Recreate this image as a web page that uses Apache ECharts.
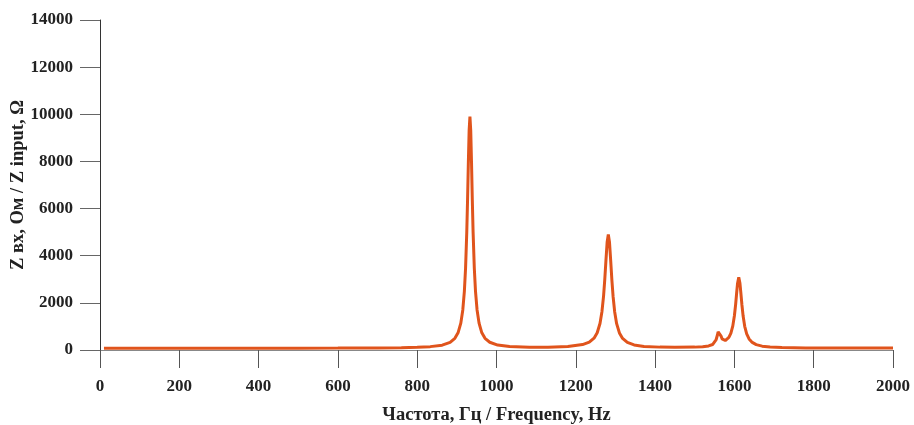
<!DOCTYPE html>
<html>
<head>
<meta charset="utf-8">
<script src="https://cdn.jsdelivr.net/npm/echarts@6/dist/echarts.min.js"></script>
<style>
  html, body { margin: 0; padding: 0; background: #fff; }
  #chart { width: 914px; height: 425px; }
</style>
</head>
<body>
<div id="chart"></div>
<script>
// частота, Гц
var freq = [
    10, 100, 200, 300, 400, 500, 600, 700, 760, 800,
    833, 863, 883, 895, 903, 910, 915, 919, 922, 925,
    927, 929, 931, 933, 935, 937, 939, 941, 944, 947,
    951, 956, 963, 971, 983, 1003, 1033, 1083, 1130, 1180,
    1217, 1234, 1246, 1254, 1261, 1266, 1270, 1273, 1276, 1279,
    1282, 1285, 1288, 1291, 1294, 1298, 1303, 1310, 1318, 1330,
    1347, 1372, 1412, 1450, 1500, 1520, 1535, 1545, 1550, 1554,
    1557, 1559, 1561, 1563, 1566, 1569, 1573, 1577, 1581, 1586,
    1591, 1596, 1600, 1603, 1606, 1608, 1611, 1614, 1616, 1619,
    1622, 1626, 1631, 1637, 1645, 1655, 1670, 1690, 1720, 1780,
    1850, 1920, 2000
];
// Z вх, Ом
var zInput = [
    72, 73, 74, 75, 76, 78, 82, 90, 100, 115,
    143, 205, 325, 495, 730, 1140, 1700, 2500, 3480, 4990,
    6365, 7940, 9320, 9900, 9320, 7940, 6365, 4990, 3480, 2500,
    1700, 1140, 730, 495, 330, 210, 150, 118, 121, 145,
    229, 332, 502, 734, 1126, 1635, 2289, 2976, 3795, 4567,
    4900, 4567, 3795, 2968, 2281, 1627, 1118, 724, 492, 320,
    214, 151, 122, 114, 122, 139, 172, 233, 311, 445,
    626, 765, 836, 782, 602, 474, 406, 401, 436, 532,
    707, 1023, 1453, 1915, 2482, 2833, 3079, 2831, 2479, 1909,
    1439, 1005, 682, 468, 321, 229, 164, 128, 105, 90,
    84, 81, 80
];

var xTitle = 'Частота, Гц / Frequency, Hz';
var yTitle = 'Z вх, Ом / Z input, Ω';

var points = [];
for (var i = 0; i < freq.length; i++) {
    points.push([freq[i], zInput[i]]);
}

var tickFont = {
    fontFamily: 'Liberation Serif',
    fontWeight: 'bold',
    fontSize: 17,
    color: '#222'
};
var nameFont = {
    fontFamily: 'Liberation Serif',
    fontWeight: 'bold',
    fontSize: 18.5,
    color: '#222'
};

function plain(v) {
    return String(v);
}

var myChart = echarts.init(document.getElementById('chart'));

var option = {
    animation: false,
    grid: { left: 100, right: 21, top: 20, bottom: 75, outerBoundsMode: 'none', containLabel: false },
    xAxis: {
        type: 'value',
        min: 0,
        max: 2000,
        interval: 200,
        name: xTitle,
        nameLocation: 'middle',
        nameGap: 56,
        nameMoveOverlap: false,
        nameTextStyle: nameFont,
        splitLine: { show: false },
        axisLine: { onZero: false, lineStyle: { color: '#888', width: 1 } },
        axisTick: { inside: false, length: 18, lineStyle: { color: '#555' } },
        axisLabel: Object.assign({ margin: 28, formatter: plain }, tickFont)
    },
    yAxis: {
        type: 'value',
        min: 0,
        max: 14000,
        interval: 2000,
        name: yTitle,
        nameLocation: 'middle',
        nameGap: 72,
        nameMoveOverlap: false,
        nameRotate: 90,
        nameTextStyle: nameFont,
        splitLine: { show: false },
        axisLine: { show: true, lineStyle: { color: '#333', width: 1 } },
        axisTick: { show: true, length: 20, lineStyle: { color: '#666' } },
        axisLabel: Object.assign({ margin: 27, formatter: plain }, tickFont)
    },
    series: [
        {
            type: 'line',
            data: points,
            showSymbol: false,
            smooth: false,
            lineStyle: { color: '#e0541c', width: 3 }
        }
    ]
};

myChart.setOption(option);
</script>
</body>
</html>
